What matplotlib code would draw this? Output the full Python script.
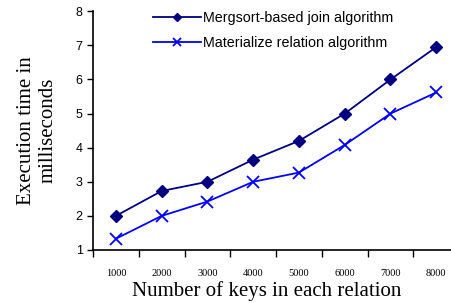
import matplotlib
matplotlib.use("Agg")
import matplotlib.pyplot as plt
import numpy as np

# Data
keys = ["1000", "2000", "3000", "4000", "5000", "6000", "7000", "8000"]
mergsort = [2.0, 2.73, 3.0, 3.65, 4.2, 5.0, 6.0, 6.95]
materialize = [1.33, 2.0, 2.42, 3.0, 3.27, 4.08, 5.0, 5.62]

fig = plt.figure(figsize=(4.52, 3.03), dpi=100)
ax = fig.add_axes([0.2058, 0.175, 0.81, 0.7877])

x = np.arange(len(keys))
ax.plot(x, mergsort, color="#000080", marker="D", markersize=6.5, linewidth=1.3,
        label="Mergsort-based join algorithm")
ax.plot(x, materialize, color="#0000FF", marker="x", markersize=9, markeredgewidth=1.3,
        linewidth=1.3, label="Materialize relation algorithm")

ax.set_xlim(-0.5, len(keys) - 0.5)
ax.set_ylim(1, 8)
ax.set_yticks(range(1, 9))
ax.set_xticks(np.arange(-0.5, len(keys), 1.0))
ax.set_xticklabels([])
ax.set_xticks(x, minor=True)
ax.set_xticklabels(keys, minor=True, fontfamily="Liberation Serif", fontsize=7.5)
ax.tick_params(axis="x", which="major", direction="out", length=5, width=1)
ax.tick_params(axis="x", which="minor", length=0, pad=14)
ax.tick_params(axis="y", direction="out", length=4, width=1, labelsize=9)
for lbl in ax.get_yticklabels():
    lbl.set_fontfamily("Liberation Sans")

ax.spines["top"].set_visible(False)
ax.spines["right"].set_visible(False)
ax.spines["left"].set_linewidth(1.2)
ax.spines["bottom"].set_linewidth(1.2)

ax.set_xlabel("Number of keys in each relation", fontfamily="Liberation Serif", fontsize=15)
ax.xaxis.set_label_coords(0.474, -0.13)
ax.set_ylabel("Execution time in\nmilliseconds", fontfamily="Liberation Serif", fontsize=15,
              linespacing=1.2)
ax.yaxis.set_label_coords(-0.097, 0.5)

leg = ax.legend(loc="upper left", bbox_to_anchor=(0.13, 1.055), frameon=False,
                prop={"family": "Liberation Sans", "size": 10.3}, markerscale=0.6,
                handlelength=3.3, handletextpad=0.15, labelspacing=0.75)

fig.savefig("out.png", dpi=100)
